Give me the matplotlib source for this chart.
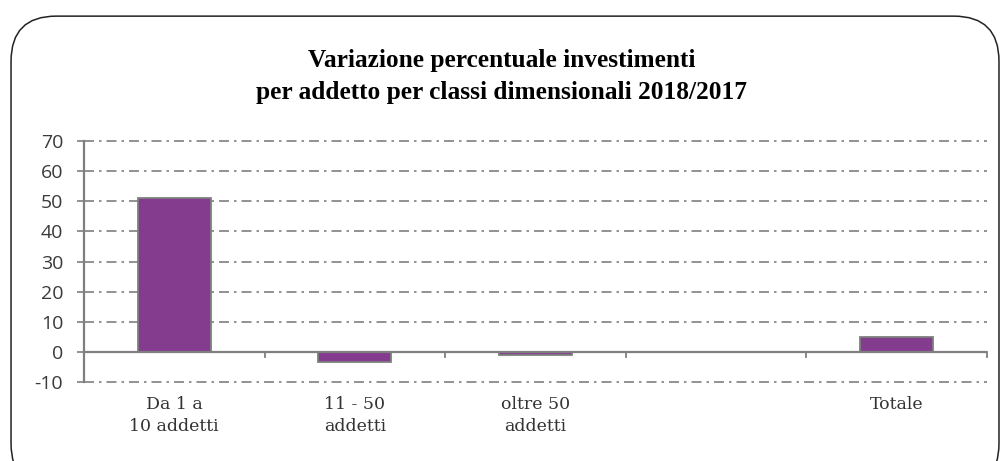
import matplotlib.pyplot as plt
from matplotlib.patches import FancyBboxPatch

# data
categories = ['Da 1 a\n10 addetti', '11 - 50\naddetti', 'oltre 50\naddetti', '', 'Totale']
values = [51.0, -3.5, -1.2, None, 4.8]
yticks = [-10, 0, 10, 20, 30, 40, 50, 60, 70]

fig = plt.figure(figsize=(10.03, 4.61), dpi=100)

# rounded frame around the chart
frame = FancyBboxPatch((0.011, -0.06), 0.985, 1.025,
                       boxstyle='round,pad=0,rounding_size=0.045',
                       transform=fig.transFigure, fill=False,
                       edgecolor='#222222', linewidth=1.1,
                       mutation_aspect=10.03 / 4.61, clip_on=False)
fig.patches.append(frame)

ax = fig.add_axes([0.0837, 0.1714, 0.9003, 0.5226])

x = list(range(len(categories)))
xs = [i for i, v in zip(x, values) if v is not None]
vs = [v for v in values if v is not None]
ax.bar(xs, vs, width=0.405, color='#843c8f', edgecolor='#7f7f7f', linewidth=1.3, zorder=3)

ax.set_xlim(-0.5, len(categories) - 0.5)
ax.set_ylim(-10, 70)
ax.set_yticks(yticks)
ax.set_yticklabels([str(t) for t in yticks], fontsize=14, color='#3a3a3a',
                   family='Open Sans')

# dash-dot grid, the zero line is the solid category axis
for t in yticks:
    if t != 0:
        ax.axhline(t, color='#7f7f7f', linewidth=1.2, linestyle=(0, (6, 3, 1.5, 3)),
                   zorder=1, clip_on=False)
ax.axhline(0, color='#7f7f7f', linewidth=1.6, zorder=4)

# category ticks at boundaries, labels below the plot
ax.set_xticks([i + 0.5 for i in range(-1, len(categories))], minor=False)
ax.set_xticklabels([])
ax.tick_params(axis='x', length=0)
for i in range(-1, len(categories)):
    ax.plot([i + 0.5, i + 0.5], [0, -1.8], color='#7f7f7f', linewidth=1.3,
            zorder=4, clip_on=False)
for i, lab in enumerate(categories):
    ax.text(i, -14.5, lab, ha='center', va='top', fontsize=12.5, color='#333333',
            family='DejaVu Serif', linespacing=1.45)

ax.tick_params(axis='y', length=5, width=1.2, color='#7f7f7f', pad=10)
for s in ['top', 'right', 'bottom']:
    ax.spines[s].set_visible(False)
ax.spines['left'].set_color('#7f7f7f')
ax.spines['left'].set_linewidth(1.6)

fig.text(0.5, 0.834, 'Variazione percentuale investimenti\nper addetto per classi dimensionali 2018/2017',
         ha='center', va='center', fontsize=18.3, fontweight='bold',
         family='Liberation Serif', linespacing=1.55)

fig.savefig('out.png', dpi=100)
